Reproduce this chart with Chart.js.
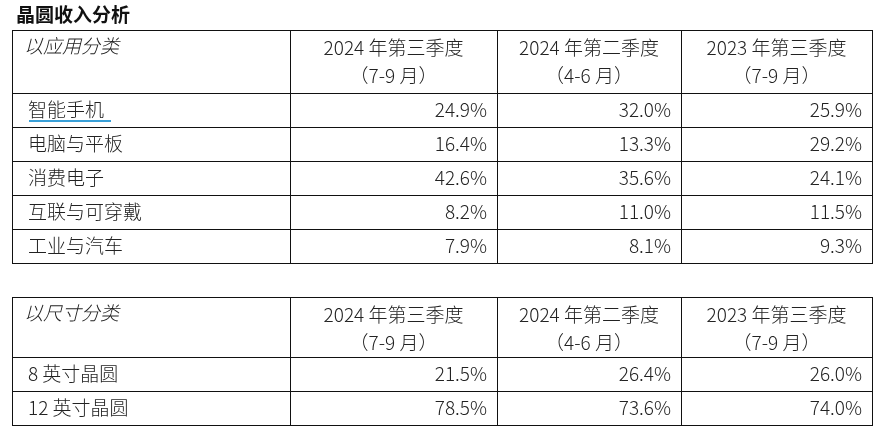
<!DOCTYPE html>
<html>
<head>
<meta charset="utf-8">
<script src="https://cdn.jsdelivr.net/npm/chart.js@4"></script>
<style>
  html, body { margin: 0; padding: 0; background: #fff; }
  #wrap { width: 882px; height: 438px; }
</style>
</head>
<body>
<div id="wrap"><canvas id="tableChart"></canvas></div>
<script>
// Data
const title = '晶圆收入分析';
const periodLabels = ['2024 年第三季度', '2024 年第二季度', '2023 年第三季度'];
const periodMonths = ['（7-9 月）', '（4-6 月）', '（7-9 月）'];

const appHeader = '以应用分类';
const appCategories = ['智能手机', '电脑与平板', '消费电子', '互联与可穿戴', '工业与汽车'];
const app2024Q3 = [24.9, 16.4, 42.6, 8.2, 7.9];
const app2024Q2 = [32.0, 13.3, 35.6, 11.0, 8.1];
const app2023Q3 = [25.9, 29.2, 24.1, 11.5, 9.3];

const sizeHeader = '以尺寸分类';
const sizeCategories = ['8 英寸晶圆', '12 英寸晶圆'];
const size2024Q3 = [21.5, 78.5];
const size2024Q2 = [26.4, 73.6];
const size2023Q3 = [26.0, 74.0];

// Layout
const colX = [12, 290, 497, 681, 872];
const FONT = '"Noto Sans CJK SC", sans-serif';

function drawTable(ctx, top, headBottom, rowH, header, cats, cols) {
    const bottom = headBottom + rowH * cats.length;
    ctx.strokeStyle = '#111';
    ctx.lineWidth = 1;
    ctx.beginPath();
    [top, headBottom].concat(cats.map((c, i) => headBottom + rowH * (i + 1))).forEach(y => {
        ctx.moveTo(colX[0], y + 0.5); ctx.lineTo(colX[4], y + 0.5);
    });
    colX.forEach(x => { ctx.moveTo(x + 0.5, top); ctx.lineTo(x + 0.5, bottom + 1); });
    ctx.stroke();

    ctx.fillStyle = '#222';
    ctx.textBaseline = 'middle';
    ctx.font = 'italic 300 19px ' + FONT;
    ctx.textAlign = 'left';
    ctx.fillText(header, 24, top + 16);

    ctx.font = '300 19px ' + FONT;
    ctx.textAlign = 'center';
    periodLabels.forEach((p, j) => {
        const cx = (colX[j + 1] + colX[j + 2]) / 2;
        ctx.fillText(p, cx, top + 18);
        ctx.fillText(periodMonths[j], cx, top + 46);
    });

    cats.forEach((c, i) => {
        const cy = headBottom + rowH * i + rowH / 2;
        ctx.textAlign = 'left';
        ctx.fillText(c, 28, cy);
        cols.forEach((vals, j) => {
            ctx.textAlign = 'right';
            ctx.fillText(vals[i].toFixed(1) + '%', colX[j + 2] - 10, cy);
        });
    });
}

const tablePlugin = {
    id: 'tablePlugin',
    afterDraw(chart) {
        const ctx = chart.ctx;
        ctx.save();
        ctx.fillStyle = '#111';
        ctx.font = 'bold 19px ' + FONT;
        ctx.textAlign = 'left';
        ctx.textBaseline = 'middle';
        ctx.fillText(title, 16, 15);

        drawTable(ctx, 30, 93, 34, appHeader, appCategories, [app2024Q3, app2024Q2, app2023Q3]);
        drawTable(ctx, 297, 357, 34, sizeHeader, sizeCategories, [size2024Q3, size2024Q2, size2023Q3]);

        // underline under 智能手机
        ctx.strokeStyle = '#3aa0d8';
        ctx.lineWidth = 2;
        ctx.beginPath();
        ctx.moveTo(29, 121); ctx.lineTo(111, 121);
        ctx.stroke();
        ctx.restore();
    }
};

new Chart(document.getElementById('tableChart'), {
    type: 'bar',
    data: { labels: appCategories, datasets: [{ data: [] }] },
    options: {
        responsive: true,
        maintainAspectRatio: false,
        animation: false,
        plugins: { legend: { display: false }, tooltip: { enabled: false } },
        scales: { x: { display: false }, y: { display: false } }
    },
    plugins: [tablePlugin]
});
</script>
</body>
</html>
